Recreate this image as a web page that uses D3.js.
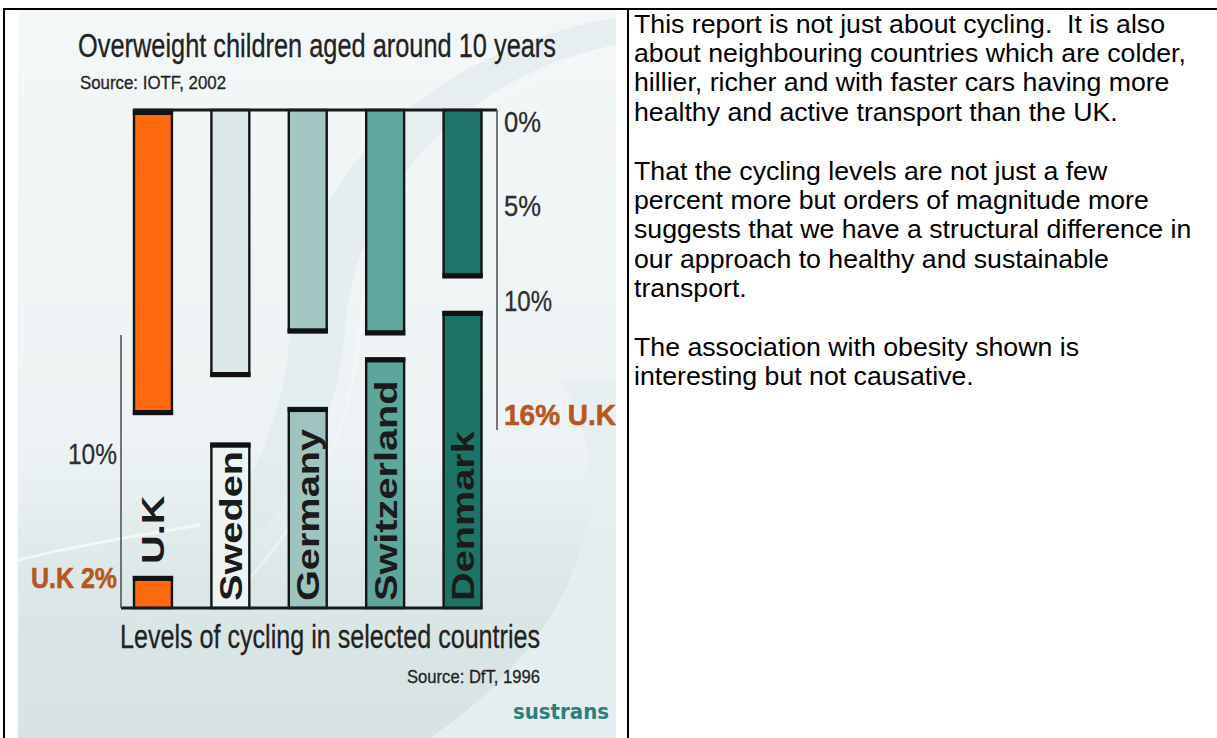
<!DOCTYPE html>
<html><head><meta charset="utf-8">
<script src="https://cdn.jsdelivr.net/npm/d3@7"></script>
<style>
html,body{margin:0;padding:0;background:#fff;}
svg{display:block;}
</style></head><body>
<svg id="c" width="1217" height="738"></svg>
<script>
// ---- data ----
const countries = ["U.K", "Sweden", "Germany", "Switzerland", "Denmark"];
const overweight = [16, 14, 11.7, 11.8, 8.8];          // % overweight children (IOTF 2002)
const cycling = [2, 10.6, 12.9, 16.1, 19.1];            // % of trips by bike (DfT 1996)
const overweightTicks = [0, 5, 10, 16];
const overweightTickLabels = ["0%", "5%", "10%", "16% U.K"];
const cyclingTicks = [10, 2];
const cyclingTickLabels = ["10%", "U.K 2%"];
const topColors = ["#ff6a0e", "#dce8e8", "#a3c7c3", "#60a69d", "#1f7569"];
const bottomColors = ["#ff6a0e", "#eef3f3", "#9fc4c0", "#5ea59c", "#1d7366"];
const paragraphs = [
  ["This report is not just about cycling.  It is also", "about neighbouring countries which are colder,", "hillier, richer and with faster cars having more", "healthy and active transport than the UK."],
  ["That the cycling levels are not just a few", "percent more but orders of magnitude more", "suggests that we have a structural difference in", "our approach to healthy and sustainable", "transport."],
  ["The association with obesity shown is", "interesting but not causative."]
];

const svg = d3.select("#c");
const NARROW = "'Liberation Sans Narrow','Liberation Sans',Arial,sans-serif";

// ---- background picture ----
const defs = svg.append("defs");
const g1 = defs.append("linearGradient").attr("id", "bg").attr("x1", 0).attr("y1", 0).attr("x2", 0).attr("y2", 1);
g1.append("stop").attr("offset", 0).attr("stop-color", "#f3f7f8");
g1.append("stop").attr("offset", 0.6).attr("stop-color", "#edf3f4");
g1.append("stop").attr("offset", 0.8).attr("stop-color", "#dbe6e7");
g1.append("stop").attr("offset", 1).attr("stop-color", "#d7e2e3");
const clip = defs.append("clipPath").attr("id", "pic");
clip.append("rect").attr("x", 18).attr("y", 9).attr("width", 598).attr("height", 729);

const pic = svg.append("g").attr("clip-path", "url(#pic)");
pic.append("rect").attr("x", 18).attr("y", 9).attr("width", 598).attr("height", 729).attr("fill", "url(#bg)");
// soft decorative swooshes
pic.append("path").attr("d", "M616,18 C470,40 300,150 290,330 C285,430 240,520 150,600 L130,630 C270,560 335,450 345,330 C355,180 480,70 616,45 Z")
  .attr("fill", "#dde8e9").attr("opacity", 0.55);
pic.append("path").attr("d", "M616,45 C500,80 370,170 360,330 C352,430 310,520 220,610")
  .attr("fill", "none").attr("stroke", "#f7fafa").attr("stroke-width", 3).attr("opacity", 0.5);
pic.append("path").attr("d", "M560,380 C620,470 600,620 430,738 L616,738 L616,380 Z")
  .attr("fill", "#e6eeef").attr("opacity", 0.9);
pic.append("path").attr("d", "M18,560 C80,545 140,535 200,525")
  .attr("fill", "none").attr("stroke", "#ffffff").attr("stroke-width", 3).attr("opacity", 0.6);

// ---- scales ----
const x = d3.scaleBand().domain(countries).range([134, 481.5]).paddingInner(0.51).paddingOuter(0);
const yTop = d3.scaleLinear().domain([0, 16]).range([110, 414]);
const yBot = d3.scaleLinear().domain([0, 10]).range([608, 453]);

// ---- titles ----
function narrowText(g, str, px, py, size, len, opts = {}) {
  return g.append("text").attr("x", px).attr("y", py).text(str)
    .attr("font-family", NARROW).attr("font-size", size)
    .attr("fill", opts.fill || "#222").attr("font-weight", opts.weight || "normal")
    .attr("text-anchor", opts.anchor || "start")
    .attr("stroke", opts.fill || "#222").attr("stroke-width", 0.3)
    .attr("textLength", len).attr("lengthAdjust", "spacingAndGlyphs");
}
narrowText(pic, "Overweight children aged around 10 years", 78, 57, 33, 478);
narrowText(pic, "Source: IOTF, 2002", 80, 89, 19, 146);
narrowText(pic, "Levels of cycling in selected countries", 120, 648, 33, 420);
narrowText(pic, "Source: DfT, 1996", 407, 683, 19, 133);
pic.append("text").attr("x", 513).attr("y", 719).text("sustrans")
  .attr("font-family", "'Comic Sans MS','DejaVu Sans',sans-serif").attr("font-weight", "bold")
  .attr("font-size", 21).attr("fill", "#2c7f7a").attr("textLength", 96).attr("lengthAdjust", "spacingAndGlyphs");

// ---- top chart: overweight bars hanging from 0% ----
const topG = pic.append("g");
countries.forEach((c, i) => {
  const bx = x(c), bw = x.bandwidth(), y0 = yTop(0), y1 = yTop(overweight[i]);
  topG.append("rect").attr("x", bx).attr("y", y0).attr("width", bw).attr("height", y1 - y0)
    .attr("fill", topColors[i]).attr("stroke", "#151515").attr("stroke-width", 2.4);
  topG.append("rect").attr("x", bx - 1.2).attr("y", y1 - 4).attr("width", bw + 2.4).attr("height", 5).attr("fill", "#111");
});
topG.append("rect").attr("x", x("U.K") - 1.2).attr("y", yTop(0)).attr("width", x.bandwidth() + 2.4).attr("height", 5).attr("fill", "#111");
topG.append("line").attr("x1", x(countries[0]) - 1).attr("x2", 497).attr("y1", yTop(0)).attr("y2", yTop(0))
  .attr("stroke", "#1a1a1a").attr("stroke-width", 3);

const rightAxis = d3.axisRight(yTop).tickValues(overweightTicks).tickSize(0).tickPadding(7)
  .tickFormat((d, i) => overweightTickLabels[i]);
const ra = topG.append("g").attr("transform", "translate(497,0)").call(rightAxis);
ra.select(".domain").remove();
ra.selectAll("text").each(function(d, i) {
  const t = d3.select(this);
  const yy = Math.max(yTop(d), yTop(0) + 11);
  const col = i === 3 ? "#b8561f" : "#2e2e2e";
  t.attr("y", yy - yTop(d)).attr("dy", "0.35em")
    .attr("font-family", NARROW).attr("font-size", 30)
    .attr("fill", col).attr("stroke", col).attr("stroke-width", i === 3 ? 0.6 : 0.3)
    .attr("font-weight", i === 3 ? "bold" : "normal")
    .attr("textLength", i === 3 ? 112 : (overweightTickLabels[i].length === 2 ? 37 : 48))
    .attr("lengthAdjust", "spacingAndGlyphs");
});
topG.append("line").attr("x1", 497).attr("x2", 497).attr("y1", yTop(0)).attr("y2", 430)
  .attr("stroke", "#555").attr("stroke-width", 1.6);

// ---- bottom chart: cycling levels ----
const botG = pic.append("g");
countries.forEach((c, i) => {
  const bx = x(c), bw = x.bandwidth(), y0 = yBot(0), y1 = yBot(cycling[i]);
  botG.append("rect").attr("x", bx).attr("y", y1).attr("width", bw).attr("height", y0 - y1)
    .attr("fill", bottomColors[i]).attr("stroke", "#151515").attr("stroke-width", 2.4);
  botG.append("rect").attr("x", bx - 1.2).attr("y", y1 - 1).attr("width", bw + 2.4).attr("height", 5).attr("fill", "#111");
  const t = botG.append("text").text(c)
    .attr("font-family", "'Liberation Sans',Arial,sans-serif").attr("font-weight", "bold")
    .attr("font-size", 32).attr("fill", "#1b1b1b");
  const L = t.node().getComputedTextLength() * 1.24;
  const inside = (y0 - y1) > L + 8;
  const start = inside ? y0 - 7 : y1 - 13;
  t.attr("transform", `translate(${bx + bw / 2 + 11.5},${start}) rotate(-90)`)
    .attr("textLength", L).attr("lengthAdjust", "spacingAndGlyphs");
});
botG.append("line").attr("x1", 121).attr("x2", x(countries[4]) + x.bandwidth() + 1).attr("y1", yBot(0)).attr("y2", yBot(0))
  .attr("stroke", "#1a1a1a").attr("stroke-width", 3);
botG.append("line").attr("x1", 121).attr("x2", 121).attr("y1", 335).attr("y2", yBot(0))
  .attr("stroke", "#555").attr("stroke-width", 1.6);

const leftAxis = d3.axisLeft(yBot).tickValues(cyclingTicks).tickSize(0).tickPadding(4)
  .tickFormat((d, i) => cyclingTickLabels[i]);
const la = botG.append("g").attr("transform", "translate(121,0)").call(leftAxis);
la.select(".domain").remove();
la.selectAll("text").each(function(d, i) {
  const t = d3.select(this);
  const yy = Math.min(yBot(d), yBot(0) - 18);
  const col = i === 1 ? "#b8561f" : "#2e2e2e";
  t.attr("y", yy - yBot(d)).attr("dy", "0.35em")
    .attr("font-family", NARROW).attr("font-size", 30)
    .attr("fill", col).attr("stroke", col).attr("stroke-width", i === 1 ? 0.6 : 0.3)
    .attr("font-weight", i === 1 ? "bold" : "normal")
    .attr("textLength", i === 1 ? 86 : 49)
    .attr("lengthAdjust", "spacingAndGlyphs");
});

// ---- table frame ----
const frame = svg.append("g").attr("stroke", "#000").attr("stroke-width", 2);
frame.append("line").attr("x1", 3).attr("x2", 1217).attr("y1", 9).attr("y2", 9);
frame.append("line").attr("x1", 4).attr("x2", 4).attr("y1", 8).attr("y2", 738);
frame.append("line").attr("x1", 628).attr("x2", 628).attr("y1", 8).attr("y2", 738);

// ---- right text ----
const txt = svg.append("g").attr("font-family", "'Liberation Sans',Arial,sans-serif").attr("font-size", 26.7).attr("fill", "#000");
let ly = 32.5;
paragraphs.forEach((p, pi) => {
  p.forEach(line => {
    txt.append("text").attr("x", 634).attr("y", ly).attr("xml:space", "preserve").style("white-space", "pre").text(line);
    ly += 29.4;
  });
  ly += 29.4;
});
</script>
</body></html>
